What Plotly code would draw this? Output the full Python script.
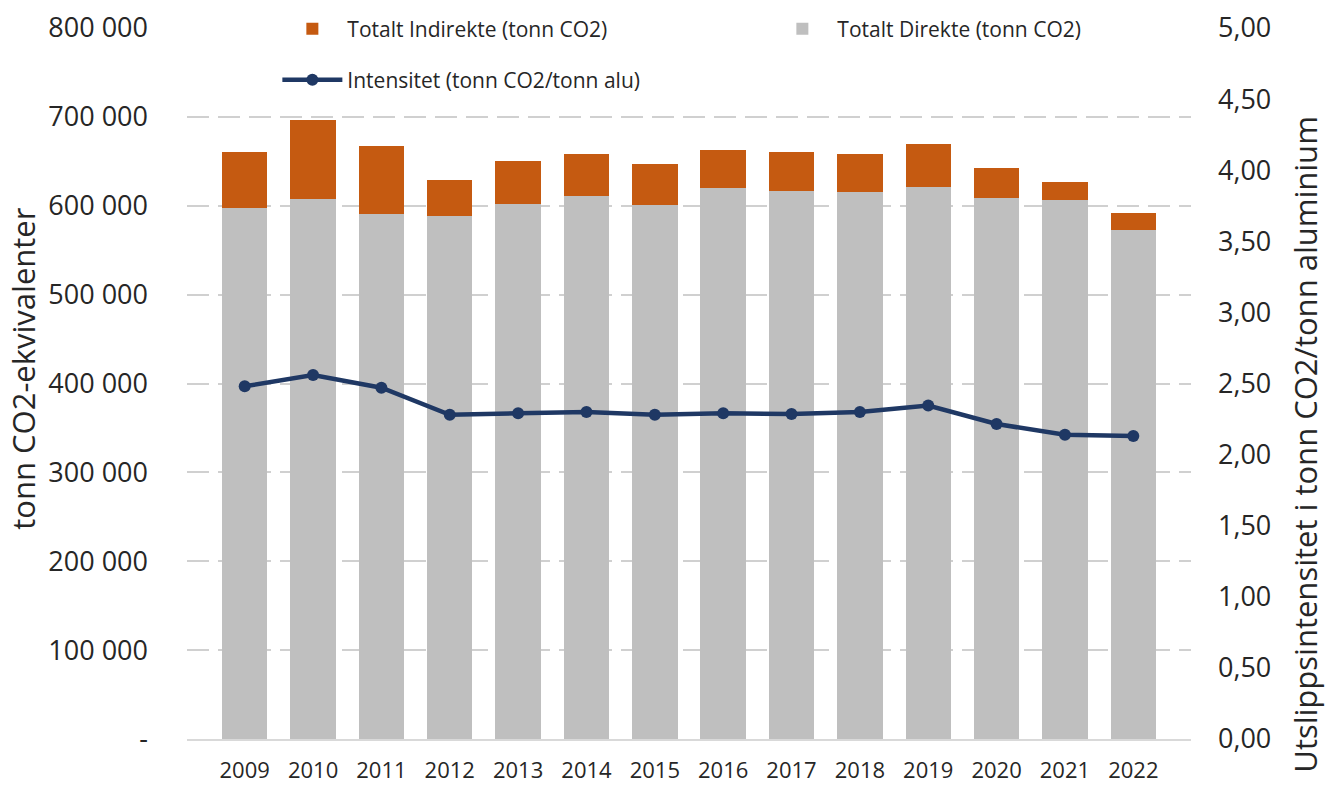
import plotly.graph_objects as go

years = ["2009", "2010", "2011", "2012", "2013", "2014", "2015",
         "2016", "2017", "2018", "2019", "2020", "2021", "2022"]
direkte = [598000, 608000, 591000, 588500, 602500, 610500, 601000,
           620000, 617000, 615000, 621500, 609000, 607000, 572500]
totalt = [661000, 696000, 667500, 629500, 650000, 658000, 647000,
          663000, 660000, 658500, 669500, 642500, 627000, 591500]
indirekte = [t - d for t, d in zip(totalt, direkte)]
intensitet = [2.48, 2.56, 2.47, 2.28, 2.29, 2.30, 2.28,
              2.29, 2.285, 2.30, 2.345, 2.215, 2.14, 2.13]

left_vals = [0, 100000, 200000, 300000, 400000, 500000, 600000, 700000, 800000]
left_text = ["-", "100 000", "200 000", "300 000", "400 000", "500 000",
             "600 000", "700 000", "800 000"]
right_vals = [0, 0.5, 1, 1.5, 2, 2.5, 3, 3.5, 4, 4.5, 5]
right_text = ["0,00", "0,50", "1,00", "1,50", "2,00", "2,50", "3,00",
              "3,50", "4,00", "4,50", "5,00"]

ORANGE = "#C55A11"
GRAY = "#BFBFBF"
NAVY = "#1F3864"
TXT = "#262626"
TICKFONT = dict(family="Open Sans", size=27, color=TXT)

fig = go.Figure()
fig.add_trace(go.Bar(x=years, y=direkte, name="Totalt Direkte (tonn CO2)",
                     marker=dict(color=GRAY, line=dict(width=0)),
                     legend="legend", legendrank=2))
fig.add_trace(go.Bar(x=years, y=indirekte, name="Totalt Indirekte (tonn CO2)",
                     marker=dict(color=ORANGE, line=dict(width=0)),
                     legend="legend", legendrank=1))
fig.add_trace(go.Scatter(x=years, y=intensitet, name="Intensitet (tonn CO2/tonn alu)",
                         mode="lines+markers", yaxis="y2",
                         line=dict(color=NAVY, width=4.5),
                         marker=dict(color=NAVY, size=12),
                         legend="legend2"))

legend_font = dict(family="Open Sans", size=21, color=TXT)
H = 787
fig.update_layout(
    width=1334, height=H,
    margin=dict(l=187, r=143, t=28, b=47.5, autoexpand=False),
    paper_bgcolor="white", plot_bgcolor="white",
    barmode="stack", bargap=0.336,
    showlegend=True,
    legend=dict(orientation="h", x=0.09, xanchor="left", yref="container",
                y=1 - 29 / H, yanchor="middle", font=legend_font,
                itemwidth=60, entrywidth=415, entrywidthmode="pixels",
                traceorder="normal", bgcolor="rgba(0,0,0,0)"),
    legend2=dict(orientation="h", x=0.09, xanchor="left", yref="container",
                 y=1 - 80 / H, yanchor="middle", font=legend_font,
                 itemwidth=60, bgcolor="rgba(0,0,0,0)"),
    xaxis=dict(type="category", showgrid=False, showline=True,
               linecolor="#D9D9D9", linewidth=2, ticks="",
               tickfont=dict(family="Open Sans", size=22, color=TXT),
               ticklabelstandoff=11),
    yaxis=dict(range=[0, 800000], tickvals=left_vals, ticktext=left_text,
               tickfont=TICKFONT, showgrid=True, gridcolor="#D0D0D0",
               gridwidth=2, griddash="22px,9px", zeroline=False,
               ticklabelstandoff=38),
    yaxis2=dict(range=[0, 5], tickvals=right_vals, ticktext=right_text,
                overlaying="y", side="right", showgrid=False, zeroline=False,
                tickfont=TICKFONT, ticklabelstandoff=26),
    annotations=[
        dict(text="tonn CO2-ekvivalenter", textangle=-90, showarrow=False,
             xref="paper", yref="paper", x=(23 - 187) / 1004,
             y=(739.5 - 369) / 711.5, xanchor="center", yanchor="middle",
             font=dict(family="Open Sans", size=31, color=TXT)),
        dict(text="Utslippsintensitet i tonn CO2/tonn aluminium", textangle=-90,
             showarrow=False, xref="paper", yref="paper",
             x=(1305 - 187) / 1004, y=(739.5 - 445) / 711.5,
             xanchor="center", yanchor="middle",
             font=dict(family="Open Sans", size=31, color=TXT)),
    ],
)

fig.write_html("out.html", config={"displayModeBar": False},
               post_script="document.body.style.margin='0';document.body.style.padding='0';")
